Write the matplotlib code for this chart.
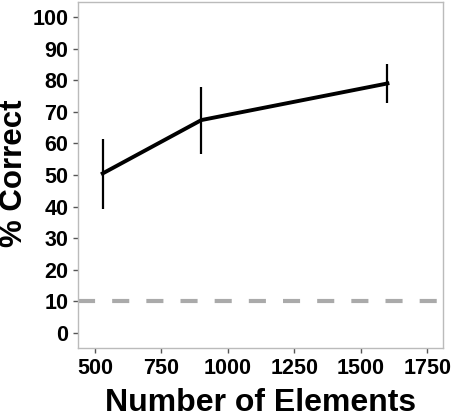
import matplotlib
matplotlib.use("Agg")
import matplotlib.pyplot as plt

n_elements = [529, 900, 1600]
pct_correct = [50.5, 67.4, 79.0]
err_low = [39.2, 56.6, 72.7]
err_high = [61.4, 77.9, 85.3]
chance = 10
x_ticks = [500, 750, 1000, 1250, 1500, 1750]
y_ticks = [0, 10, 20, 30, 40, 50, 60, 70, 80, 90, 100]

plt.rcParams['font.family'] = ['Liberation Sans', 'DejaVu Sans']
plt.rcParams['font.weight'] = 'bold'

fig = plt.figure(figsize=(4.54, 4.18), dpi=100)
ax = fig.add_axes([78/454, 1-348/418, (443-78)/454, (348-2)/418])

ax.axhline(chance, color='#aaaaaa', lw=3, dashes=(4.1, 4.1), zorder=1)
yerr = [[p - l for p, l in zip(pct_correct, err_low)],
        [h - p for p, h in zip(pct_correct, err_high)]]
ax.errorbar(n_elements, pct_correct, yerr=yerr, color='black', lw=2.8,
            elinewidth=1.6, capsize=0, zorder=3)

ax.set_xlim(436, 1809)
ax.set_ylim(-4.8, 104.8)
ax.set_xticks(x_ticks)
ax.set_yticks(y_ticks)
for s in ax.spines.values():
    s.set_color('#bbbbbb')
    s.set_linewidth(1.0)
ax.tick_params(colors='#555555', length=3.6, width=1, labelsize=15.5, labelcolor='black', pad=3.4)
for lab in ax.get_xticklabels() + ax.get_yticklabels():
    lab.set_fontweight('bold')
ax.set_xlabel('Number of Elements', fontsize=23, fontweight='bold', labelpad=7)
fig.text(14/454, 1-173/418, '% Correct', fontsize=22.5, fontweight='bold',
         rotation=90, ha='center', va='center')

fig.savefig('out.png', dpi=100)
